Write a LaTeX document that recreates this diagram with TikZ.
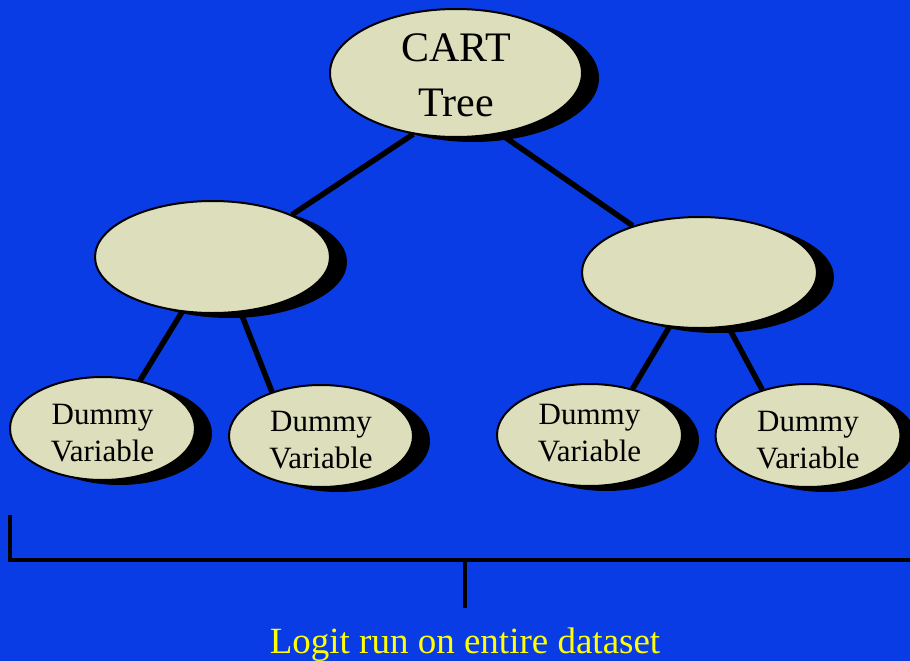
\documentclass[tikz,border=0pt]{standalone}
\usepackage{fontspec}
\setmainfont{Liberation Serif}
\usetikzlibrary{shapes.geometric,shadows,backgrounds}
\definecolor{bgblue}{RGB}{10,60,230}
\definecolor{nodefill}{RGB}{220,222,188}
\definecolor{txtyellow}{RGB}{255,255,0}
% two-line text with an invisible strut to move it inside the oval
\newcommand{\twolines}[4]{\rule[-#4]{0pt}{0pt}\rule{0pt}{#3}#1\\#2\rule[-#4]{0pt}{0pt}}
\begin{document}
\begin{tikzpicture}[x=1pt,y=-1pt,
  oval/.style={ellipse, draw=black, line width=2pt, fill=nodefill, inner sep=0pt, align=center,
    drop shadow={shadow xshift=17pt, shadow yshift=-5pt, fill=black, opacity=1}},
  treeedge/.style={line width=5.5pt, draw=black},
  bracketline/.style={line width=4pt, draw=black},
  bigtext/.style={font=\fontsize{42}{55}\selectfont},
  smalltext/.style={font=\fontsize{31}{37}\selectfont}]
\useasboundingbox (0,0) rectangle (910,661);
% nodes
\node[oval, minimum width=252pt, minimum height=128pt, bigtext] (cart) at (456,73) {\twolines{CART}{Tree}{33pt}{0pt}};
\node[oval, minimum width=235pt, minimum height=112pt] (lmid) at (212.5,257) {};
\node[oval, minimum width=235pt, minimum height=111pt] (rmid) at (699.5,272.5) {};
\node[oval, minimum width=185pt, minimum height=103pt, smalltext] (d1) at (102.5,428.5) {\twolines{Dummy}{Variable}{30pt}{0pt}};
\node[oval, minimum width=184pt, minimum height=102pt, smalltext] (d2) at (321,436) {\twolines{Dummy}{Variable}{28.5pt}{0pt}};
\node[oval, minimum width=185pt, minimum height=102pt, smalltext] (d3) at (589.5,435) {\twolines{Dummy}{Variable}{0pt}{4pt}};
\node[oval, minimum width=185pt, minimum height=103pt, smalltext] (d4) at (808,435.5) {\twolines{Dummy}{Variable}{29.5pt}{0pt}};
% bracket and label
\coordinate (bl) at (10,515);
\coordinate (bc) at (10,560);
\coordinate (br) at (920,560);
\coordinate (stemtop) at (465,560);
\coordinate (stembot) at (465,608);
\node[text=txtyellow, font=\fontsize{37}{44}\selectfont, anchor=base, inner sep=0pt] (logit) at (465,653) {Logit run on entire dataset};
\begin{scope}[on background layer]
  \fill[bgblue] (0,0) rectangle (910,661);
  \draw[treeedge] (cart.235) -- (lmid.28);
  \draw[treeedge] (cart.306) -- (rmid.145);
  \draw[treeedge] (lmid.241) -- (d1.52);
  \draw[treeedge] (lmid.297) -- (d2.138);
  \draw[treeedge] (rmid.241) -- (d3.47);
  \draw[treeedge] (rmid.298) -- (d4.135);
  \draw[bracketline] (bl) -- (bc) -- (br);
  \draw[bracketline] (stemtop) -- (stembot);
\end{scope}
\end{tikzpicture}
\end{document}
